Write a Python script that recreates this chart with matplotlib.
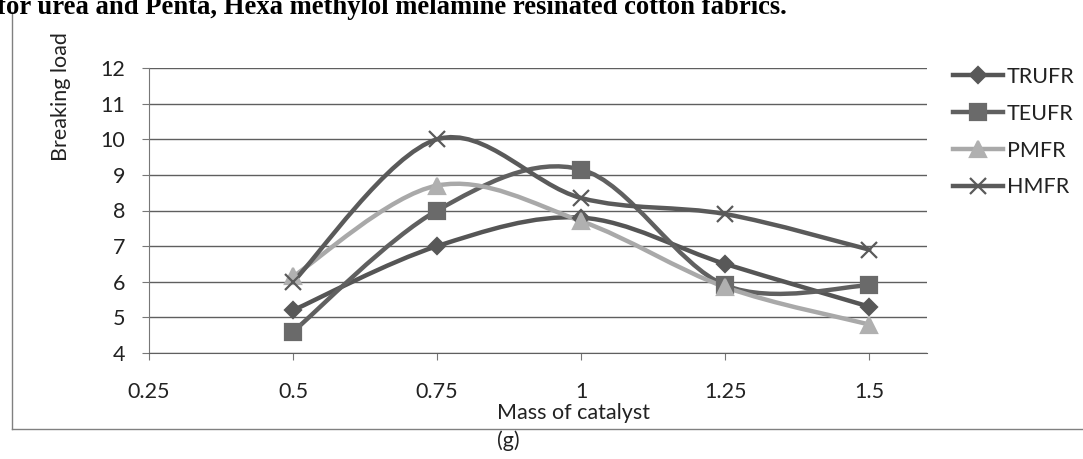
import numpy as np
import matplotlib
matplotlib.use('Agg')
import matplotlib.pyplot as plt
from matplotlib.path import Path
from matplotlib.patches import PathPatch
from matplotlib.lines import Line2D

plt.rcParams['font.family'] = ['Lato', 'DejaVu Sans']

# data
mass = [0.5, 0.75, 1.0, 1.25, 1.5]
trufr = [5.2, 7.0, 7.8, 6.5, 5.3]
teufr = [4.6, 8.0, 9.15, 5.9, 5.9]
pmfr = [6.15, 8.7, 7.7, 5.85, 4.8]
hmfr = [6.0, 10.0, 8.35, 7.9, 6.9]

x_ticks = [0.25, 0.5, 0.75, 1, 1.25, 1.5]
x_tick_labels = ['0.25', '0.5', '0.75', '1', '1.25', '1.5']
y_ticks = list(range(4, 13))

W, H = 1083, 459


def smooth_path(xs, ys):
    # excel-like smoothed line: catmull-rom segments as cubic beziers
    p = np.column_stack([xs, ys]).astype(float)
    n = len(p)
    verts = [p[0]]
    codes = [Path.MOVETO]
    for i in range(n - 1):
        p0 = p[i - 1] if i > 0 else p[i]
        p3 = p[i + 2] if i + 2 < n else p[i + 1]
        c1 = p[i] + (p[i + 1] - p0) / 6.0
        c2 = p[i + 1] - (p3 - p[i]) / 6.0
        verts += [c1, c2, p[i + 1]]
        codes += [Path.CURVE4] * 3
    return Path(verts, codes)


fig = plt.figure(figsize=(W / 100, H / 100), dpi=100)
ax = fig.add_axes([149 / W, 1 - 353 / H, (927 - 149) / W, (353 - 68) / H])

series = [
    ('TRUFR', trufr, '#555555', 'D', 8.5, '#585858'),
    ('TEUFR', teufr, '#606060', 's', 11.5, '#6a6a6a'),
    ('PMFR', pmfr, '#a9a9a9', '^', 11, '#b0b0b0'),
    ('HMFR', hmfr, '#5a5a5a', 'x', 12, '#5a5a5a'),
]

handles = []
for name, vals, col, mk, ms, mcol in series:
    ax.add_patch(PathPatch(smooth_path(mass, vals), facecolor='none',
                           edgecolor=col, lw=3.2, zorder=3, capstyle='round'))
    ax.plot(mass, vals, linestyle='none', marker=mk, ms=ms, color=mcol,
            markeredgecolor=mcol, markeredgewidth=1.6, zorder=4)
    handles.append(Line2D([], [], color=col, lw=3.2, marker=mk, ms=ms,
                          markerfacecolor=mcol, markeredgecolor=mcol,
                          markeredgewidth=1.6, label=name))

ax.set_xlim(0.25, 1.6)
ax.set_ylim(4, 12)
ax.set_xticks(x_ticks)
ax.set_xticklabels(x_tick_labels)
ax.set_yticks(y_ticks)
ax.yaxis.grid(True, color='#5f5f5f', lw=1.0)
ax.set_axisbelow(True)

for s in ['top', 'right']:
    ax.spines[s].set_visible(False)
ax.spines['left'].set_color('#777777')
ax.spines['bottom'].set_color('#5f5f5f')
ax.tick_params(axis='y', length=5, color='#777777', labelsize=15.5,
               labelcolor='#222222', pad=12)
ax.tick_params(axis='x', length=5, color='#777777', labelsize=15.5,
               labelcolor='#222222', pad=16)

ax.set_ylabel('Breaking load', fontsize=15.5, color='#222222', va='center')
ax.yaxis.set_label_coords((61 - 149) / (927 - 149), (353 - 97) / (353 - 68))
ax.set_xlabel('Mass of catalyst\n(g)', fontsize=15.5, color='#222222',
              ha='left', va='center', multialignment='left', linespacing=1.45)
ax.xaxis.set_label_coords((497 - 149) / (927 - 149), (353 - 427) / (353 - 68))

leg = ax.legend(handles=handles, loc='upper left',
                bbox_to_anchor=(953 / W, 1 - 67 / H),
                bbox_transform=fig.transFigure, frameon=False,
                fontsize=15.5, handlelength=2.3, handletextpad=0.2,
                labelspacing=0.78, borderpad=0, borderaxespad=0)
for t in leg.get_texts():
    t.set_color('#222222')

# chart frame (left and bottom edges visible on the scan)
fig.add_artist(Line2D([12 / W, 12 / W], [1 - 12 / H, 1 - 429 / H],
                      color='#808080', lw=1.0))
fig.add_artist(Line2D([12 / W, 1.0], [1 - 429 / H, 1 - 429 / H],
                      color='#808080', lw=1.0))

# page text above the chart, cut off by the crop
fig.text(-3 / W, 1 - 14 / H,
         'for urea and Penta, Hexa methylol melamine resinated cotton fabrics.',
         fontsize=19.2, fontweight='bold', family='Liberation Serif',
         ha='left', va='baseline', color='black')

fig.savefig('out.png', dpi=100)
